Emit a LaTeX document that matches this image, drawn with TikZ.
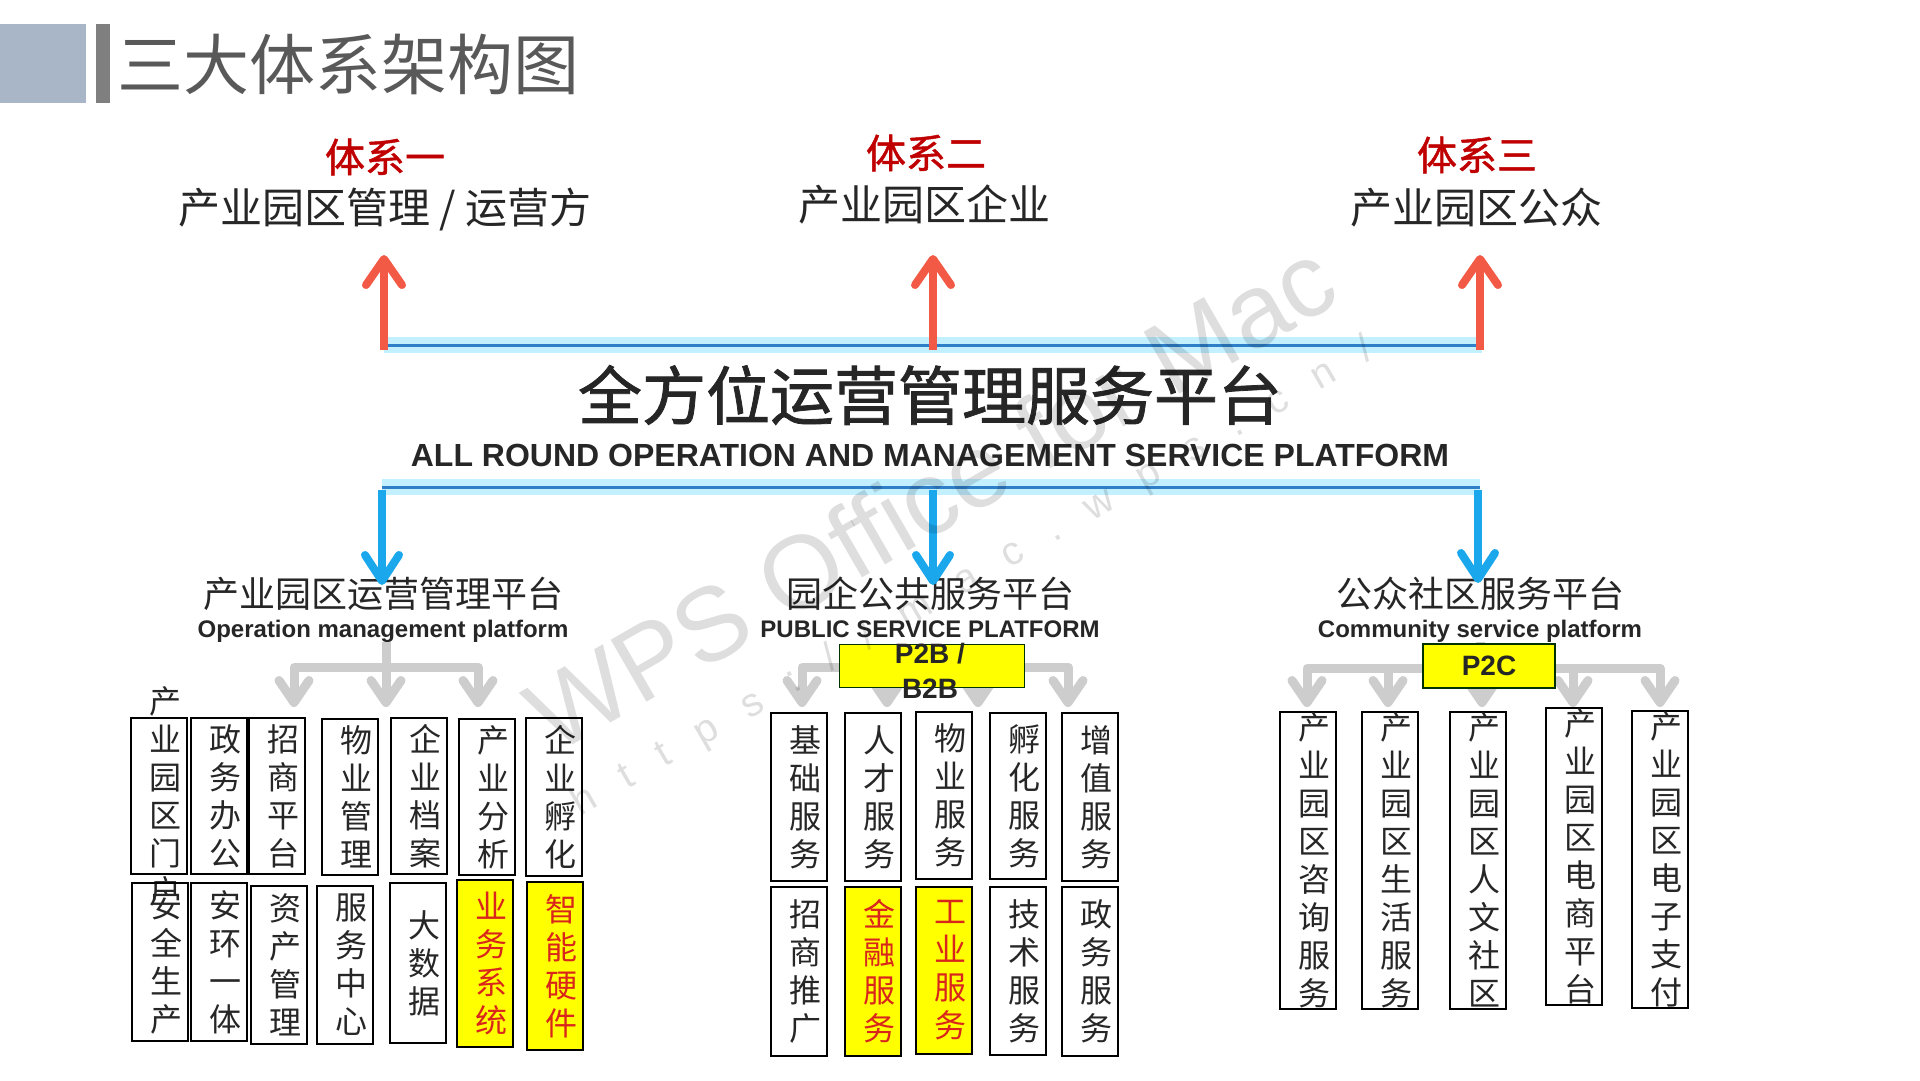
\documentclass[tikz,border=0pt]{standalone}
\usepackage{fontspec}
\setmainfont{Liberation Sans}
\newfontfamily\cjk{Noto Sans CJK SC}
\newfontfamily\cjkmid[FakeBold=1.2]{Noto Sans CJK SC}
\newfontfamily\wmfont{Liberation Sans}
\newfontfamily\wmurl[LetterSpace=80]{Liberation Sans}
\usepackage{tikz}
\usetikzlibrary{arrows.meta, positioning}
\usepackage{xcolor}
\definecolor{slate}{HTML}{A9B6C8}
\definecolor{bargrey}{HTML}{7F7F7F}
\definecolor{titlegrey}{HTML}{595959}
\definecolor{sysred}{HTML}{C00000}
\definecolor{uparrow}{HTML}{F25A45}
\definecolor{skyblue}{HTML}{1AA7EC}
\definecolor{glowblue}{HTML}{B5EDFF}
\definecolor{lineblue}{HTML}{2F7FC8}
\definecolor{connector}{HTML}{CDCDCD}
\definecolor{hiyellow}{HTML}{FFFF00}
\definecolor{hired}{HTML}{D9261C}
\definecolor{ink}{HTML}{262626}

\begin{document}
\begin{tikzpicture}[
    x=1pt, y=-1pt,
    title/.style={font=\cjk\fontsize{66}{70}\selectfont, text=titlegrey, anchor=west, inner sep=0pt},
    sys/.style={font=\cjkmid\fontsize{40}{44}\selectfont, text=sysred, inner sep=0pt},
    party/.style={font=\cjk\fontsize{42}{46}\selectfont, text=ink, inner sep=0pt},
    core/.style={font=\cjkmid\fontsize{64}{70}\selectfont, text=ink, inner sep=0pt},
    coreen/.style={font=\bfseries\fontsize{32}{36}\selectfont, text=ink, inner sep=0pt},
    plat/.style={font=\cjk\fontsize{36}{40}\selectfont, text=ink, inner sep=0pt},
    platen/.style={font=\bfseries\fontsize{24}{28}\selectfont, text=ink, inner sep=0pt, anchor=base},
    cell/.style={draw=black, line width=2pt, minimum width=56pt, inner sep=0pt},
    hicell/.style={cell, fill=hiyellow},
    ctext/.style={font=\cjk\fontsize{32}{38}\selectfont, text=ink, align=center, inner sep=0pt, xshift=6pt},
    hitext/.style={ctext, text=hired},
    tag/.style={draw=black!80!green, line width=1.5pt, fill=hiyellow, inner sep=0pt},
    tagtext/.style={font=\bfseries\fontsize{28}{35}\selectfont, text=ink, align=center, inner sep=0pt},
    uparr/.style={-{Straight Barb[length=26pt, width=36pt, round]}, line width=8pt, uparrow},
    downarr/.style={-{Straight Barb[length=26pt, width=34pt, round]}, line width=8pt, skyblue},
    glow/.style={line width=16pt, glowblue, opacity=0.8},
    bar/.style={line width=3pt, lineblue},
    feed/.style={line width=9pt, connector, line join=round},
    feedarr/.style={feed, -{Straight Barb[length=22pt, width=30pt, round]}},
    wm/.style={text=black, opacity=0.13, rotate=30, inner sep=0pt},
  ]
  \useasboundingbox (0,0) rectangle (1920,1080);
  \fill[white] (0,0) rectangle (1920,1080);
  \fill[slate] (0,24) rectangle (86,103);
  \fill[bargrey] (96,24) rectangle (110,103);
  \node[title] (head) at (117,64) {三大体系架构图};

  \node[sys] (sys1) at (385,157) {体系一};
  \node[party] (who1) at (385,209) {产业园区管理 / 运营方};
  \node[sys] (sys2) at (926,153) {体系二};
  \node[party] (who2) at (924,204) {产业园区企业};
  \node[sys] (sys3) at (1477,155) {体系三};
  \node[party] (who3) at (1476,208) {产业园区公众};

  \node[core] (hub) at (930,395) {全方位运营管理服务平台};
  \node[coreen] (huben) at (930,455) {ALL ROUND OPERATION AND MANAGEMENT SERVICE PLATFORM};

  \node[plat] (ops) at (383,594) {产业园区运营管理平台};
  \node[platen] (opsen) at (383,637) {Operation management platform};
  \node[plat] (pub) at (930,594) {园企公共服务平台};
  \node[platen] (puben) at (930,637) {PUBLIC SERVICE PLATFORM};
  \node[plat] (com) at (1480,594) {公众社区服务平台};
  \node[platen] (comen) at (1480,637) {Community service platform};

  \coordinate (tl) at (384,345); \coordinate (tr) at (1482,345);
  \coordinate (up1) at (384,350); \coordinate (tip1) at (384,255);
  \coordinate (up2) at (933,350); \coordinate (tip2) at (933,255);
  \coordinate (up3) at (1480,350); \coordinate (tip3) at (1480,255);
  \draw[glow] (tl) -- (tr);
  \draw[bar] (tl) -- (tr);
  \draw[uparr] (up1) -- (tip1);
  \draw[uparr] (up2) -- (tip2);
  \draw[uparr] (up3) -- (tip3);

  \coordinate (ml) at (382,487); \coordinate (mr) at (1480,487);
  \coordinate (dn1) at (382,490); \coordinate (end1) at (382,585);
  \coordinate (dn2) at (933,490); \coordinate (end2) at (933,585);
  \coordinate (dn3) at (1478,490); \coordinate (end3) at (1478,583);
  \draw[glow] (ml) -- (mr);
  \draw[bar] (ml) -- (mr);
  \draw[downarr] (dn1) -- (end1);
  \draw[downarr] (dn2) -- (end2);
  \draw[downarr] (dn3) -- (end3);

  \coordinate (lsrc) at (386,642); \coordinate (ljoin) at (386,667);
  \coordinate (lt1) at (294,707); \coordinate (lt2) at (386,707); \coordinate (lt3) at (478,707);
  \draw[feed] (lsrc) -- (ljoin);
  \draw[feedarr] (ljoin) -| (lt1);
  \draw[feedarr] (ljoin) -- (lt2);
  \draw[feedarr] (ljoin) -| (lt3);

  \coordinate (msrc) at (930,645); \coordinate (mjoin) at (930,667);
  \coordinate (mt1) at (802,707); \coordinate (mt2) at (887,707);
  \coordinate (mt3) at (978,707); \coordinate (mt4) at (1068,707);
  \draw[feed] (msrc) -- (mjoin);
  \draw[feedarr] (mjoin) -| (mt1);
  \draw[feedarr] (mjoin) -| (mt2);
  \draw[feedarr] (mjoin) -| (mt3);
  \draw[feedarr] (mjoin) -| (mt4);

  \coordinate (rsrc) at (1480,642); \coordinate (rjoin) at (1480,668);
  \coordinate (rt1) at (1307,707); \coordinate (rt2) at (1388,707); \coordinate (rt3) at (1482,707);
  \coordinate (rt4) at (1573,707); \coordinate (rt5) at (1660,707);
  \draw[feed] (rsrc) -- (rjoin);
  \draw[feedarr] (rjoin) -| (rt1);
  \draw[feedarr] (rjoin) -| (rt2);
  \draw[feedarr] (rjoin) -| (rt3);
  \draw[feedarr] (rjoin) -| (rt4);
  \draw[feedarr] (rjoin) -| (rt5);

  \node[tag, minimum width=185pt, minimum height=43pt] (p2b) at (932,666) {};
  \node[tagtext] (p2bt) at (930,671) {P2B /\\B2B};
  \node[tag, minimum width=132pt, minimum height=44pt] (p2c) at (1489,666) {};
  \node[tagtext] (p2ct) at (p2c) {P2C};

  \node[cell, minimum height=156pt] (a1) at (159,796) {}; \node[ctext] (a1t) at (a1) {产\\业\\园\\区\\门\\户};
  \node[cell, minimum height=156pt] (a2) at (219,796) {}; \node[ctext] (a2t) at (a2) {政\\务\\办\\公};
  \node[cell, minimum height=156pt] (a3) at (277,796) {}; \node[ctext] (a3t) at (a3) {招\\商\\平\\台};
  \node[cell, minimum height=156pt] (a4) at (350,797) {}; \node[ctext] (a4t) at (a4) {物\\业\\管\\理};
  \node[cell, minimum height=156pt] (a5) at (419,796) {}; \node[ctext] (a5t) at (a5) {企\\业\\档\\案};
  \node[cell, minimum height=156pt] (a6) at (487,797) {}; \node[ctext] (a6t) at (a6) {产\\业\\分\\析};
  \node[cell, minimum height=158pt] (a7) at (554,797) {}; \node[ctext] (a7t) at (a7) {企\\业\\孵\\化};

  \node[cell, minimum height=158pt] (b1) at (160,962) {}; \node[ctext] (b1t) at (b1) {安\\全\\生\\产};
  \node[cell, minimum height=158pt] (b2) at (219,962) {}; \node[ctext] (b2t) at (b2) {安\\环\\一\\体};
  \node[cell, minimum height=158pt] (b3) at (279,965) {}; \node[ctext] (b3t) at (b3) {资\\产\\管\\理};
  \node[cell, minimum height=158pt] (b4) at (345,965) {}; \node[ctext] (b4t) at (b4) {服\\务\\中\\心};
  \node[cell, minimum height=160pt] (b5) at (418,963) {}; \node[ctext] (b5t) at (b5) {大\\数\\据};
  \node[hicell, minimum height=167pt] (b6) at (485,963) {}; \node[hitext] (b6t) at (b6) {业\\务\\系\\统};
  \node[hicell, minimum height=168pt] (b7) at (555,966) {}; \node[hitext] (b7t) at (b7) {智\\能\\硬\\件};

  \node[cell, minimum height=168pt] (c1) at (799,797) {}; \node[ctext] (c1t) at (c1) {基\\础\\服\\务};
  \node[cell, minimum height=168pt] (c2) at (873,797) {}; \node[ctext] (c2t) at (c2) {人\\才\\服\\务};
  \node[cell, minimum height=167pt] (c3) at (944,795) {}; \node[ctext] (c3t) at (c3) {物\\业\\服\\务};
  \node[cell, minimum height=166pt] (c4) at (1018,796) {}; \node[ctext] (c4t) at (c4) {孵\\化\\服\\务};
  \node[cell, minimum height=168pt] (c5) at (1090,797) {}; \node[ctext] (c5t) at (c5) {增\\值\\服\\务};

  \node[cell, minimum height=169pt] (d1) at (799,971) {}; \node[ctext] (d1t) at (d1) {招\\商\\推\\广};
  \node[hicell, minimum height=169pt] (d2) at (873,971) {}; \node[hitext] (d2t) at (d2) {金\\融\\服\\务};
  \node[hicell, minimum height=167pt] (d3) at (944,970) {}; \node[hitext] (d3t) at (d3) {工\\业\\服\\务};
  \node[cell, minimum height=168pt] (d4) at (1018,971) {}; \node[ctext] (d4t) at (d4) {技\\术\\服\\务};
  \node[cell, minimum height=169pt] (d5) at (1090,971) {}; \node[ctext] (d5t) at (d5) {政\\务\\服\\务};

  \node[cell, minimum height=297pt] (e1) at (1308,860) {}; \node[ctext] (e1t) at (e1) {产\\业\\园\\区\\咨\\询\\服\\务};
  \node[cell, minimum height=297pt] (e2) at (1390,860) {}; \node[ctext] (e2t) at (e2) {产\\业\\园\\区\\生\\活\\服\\务};
  \node[cell, minimum height=297pt] (e3) at (1478,860) {}; \node[ctext] (e3t) at (e3) {产\\业\\园\\区\\人\\文\\社\\区};
  \node[cell, minimum height=297pt] (e4) at (1574,856) {}; \node[ctext] (e4t) at (e4) {产\\业\\园\\区\\电\\商\\平\\台};
  \node[cell, minimum height=297pt] (e5) at (1660,859) {}; \node[ctext] (e5t) at (e5) {产\\业\\园\\区\\电\\子\\支\\付};

  \node[wm, font=\wmfont\fontsize{104}{104}\selectfont] (mark) at (930,496) {WPS Office for Mac};
  \node[wm, font=\wmurl\fontsize{40}{40}\selectfont] (markurl) at (973,578) {https://mac.wps.cn/};
\end{tikzpicture}
\end{document}
